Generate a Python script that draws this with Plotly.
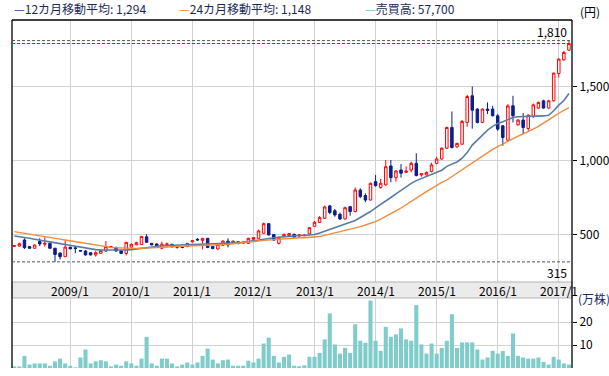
import plotly.graph_objects as go

W, H = 609, 376

# ---------------- data ----------------
months = []
for k in range(110):
    m = 2 + k
    months.append(f"{2008 + (m - 1) // 12}/{(m - 1) % 12 + 1}")

open_ = [420,422,463,418,407,452,434,440,407,375,350,414,410,392,388,377,362,373,388,412,
         411,390,372,415,430,432,484,440,436,407,430,434,418,416,418,450,468,460,474,418,
         402,427,455,440,438,448,440,467,474,508,573,500,440,488,492,501,490,492,504,555,
         582,609,693,660,636,605,688,655,800,763,733,857,817,835,963,884,936,920,936,981,
         902,902,925,980,1010,1083,1223,1092,1110,1257,1437,1347,1257,1347,1347,1302,1234,1137,1369,1241,
         1273,1216,1295,1354,1403,1354,1403,1588,1680,1745]
high = [428,445,474,420,431,474,481,445,410,378,460,416,418,394,395,380,388,393,456,420,
        418,392,450,440,450,490,502,443,440,452,445,436,420,420,443,462,475,476,476,420,
        436,460,474,460,456,452,478,483,533,580,578,503,485,506,510,505,503,500,550,592,
        625,695,700,673,648,688,693,817,812,778,850,902,875,1003,1003,935,976,960,992,1049,
        915,925,985,1025,1088,1228,1331,1120,1273,1444,1500,1354,1352,1392,1369,1313,1240,1380,1437,1280,
        1320,1312,1385,1398,1410,1410,1595,1690,1740,1810]
low = [416,418,402,405,405,422,418,402,315,332,348,400,373,386,357,358,350,371,384,408,
       385,368,358,410,428,430,445,426,415,400,413,413,405,407,415,445,458,400,408,400,
       398,425,413,436,434,440,436,465,470,505,493,458,433,481,488,478,485,488,500,550,
       578,605,637,620,598,600,627,650,745,718,730,823,810,830,853,857,884,915,920,893,
       890,898,920,975,1005,1078,1080,1085,1105,1228,1215,1250,1252,1313,1298,1200,1099,1130,1257,1235,
       1178,1200,1290,1350,1350,1350,1398,1561,1673,1740]
close = [425,438,411,407,429,436,440,407,365,350,415,403,405,388,362,362,377,391,418,418,
         388,372,447,434,445,487,447,430,420,434,436,416,414,412,440,458,463,474,412,405,
         434,456,430,455,452,443,474,479,524,573,497,462,481,501,506,482,497,496,546,582,
         614,686,648,632,605,681,655,801,756,733,846,830,846,958,884,929,914,929,981,898,
         911,920,970,1010,1083,1223,1088,1115,1264,1432,1340,1257,1347,1338,1302,1212,1155,1369,1302,1273,
         1223,1306,1376,1392,1354,1403,1590,1685,1730,1790]

ma12 = [490,486,480,474,468,463,458,452,445,438,432,426,418,412,406,401,398,396,395,394,
        393,393,395,398,403,409,414,419,422,424,426,427,428,429,431,433,436,438,438,437,
        437,438,440,442,444,447,452,458,465,472,476,478,481,485,489,492,493,493,495,500,
        510,522,535,547,557,567,578,595,615,633,655,680,702,728,750,775,800,822,845,864,
        878,892,905,918,934,960,977,990,1015,1053,1104,1140,1175,1205,1230,1250,1262,1275,1290,1295,
        1296,1295,1297,1300,1301,1305,1336,1374,1405,1452]
ma24 = [519,514,508,502,497,491,485,480,475,469,463,457,451,445,439,434,429,423,418,413,
        410,408,407,406,406,407,409,412,415,417,418,419,420,421,422,423,425,426,427,428,
        429,431,434,437,440,443,447,452,456,460,463,466,469,472,475,478,478,478,479,481,
        486,494,502,509,517,525,533,542,553,564,575,587,603,620,640,659,679,700,722,745,
        767,790,812,835,852,868,891,914,938,962,986,1010,1032,1054,1075,1094,1112,1130,1150,1165,
        1180,1195,1212,1231,1251,1273,1296,1319,1338,1357]
volume = [0.7,0.7,5.3,1.5,2.0,2.0,2.0,1.0,2.9,4.1,2.0,1.0,0.3,4.6,8.1,2.0,2.9,3.4,2.9,0.7,
          1.5,1.0,2.9,2.0,1.0,4.1,13.6,2.0,1.0,4.1,4.1,2.0,0.7,1.5,2.4,1.5,2.4,5.3,8.5,3.7,
          2.0,3.4,3.7,1.0,1.0,1.0,3.2,2.4,4.1,10.7,13.3,5.3,2.4,4.9,5.9,1.0,0.75,1.2,4.9,4.9,
          6.6,12.5,23.9,10.3,6.3,8.8,6.6,19.1,11.9,11.0,29.5,11.9,7.5,18.0,13.6,14.7,17.3,12.5,11.9,27.5,
          10.3,6.3,10.7,6.3,8.8,11.9,23.5,8.8,11.2,11.2,11.2,8.1,3.7,4.6,7.5,6.3,7.4,5.3,15.1,5.3,
          4.6,4.1,4.1,4.6,2.7,1.5,4.9,3.7,2.0,1.5]

year_ticks = ["2009/1","2010/1","2011/1","2012/1","2013/1","2014/1","2015/1","2016/1","2017/1"]
price_ticks = [500, 1000, 1500]
vol_ticks = [10, 20]
legend_items = [("12カ月移動平均", "1,294"), ("24カ月移動平均", "1,148"), ("売買高", "57,700")]

# ---------------- styling ----------------
FONT = "Noto Sans CJK JP, sans-serif"
RED = "#ff0000"
NAVY = "#0a1e8c"
BLUE_MA = "#5a7aa6"
ORANGE_MA = "#f08a3c"
TEAL = "#80cccb"
GRID = "#d2d2d2"

def px(x):
    return x / W

def py(y):
    return 1 - y / H

x_left, x_right = 12, 572
price_top, price_bot = 20, 282
band_bot = 298
vol_bot = 368

fig = go.Figure()

fig.add_trace(go.Candlestick(
    x=months, open=open_, high=high, low=low, close=close,
    increasing=dict(line=dict(color=RED, width=1), fillcolor="#ffffff"),
    decreasing=dict(line=dict(color=NAVY, width=1), fillcolor=NAVY),
    whiskerwidth=0, xaxis="x", yaxis="y", showlegend=False, hoverinfo="skip"))

fig.add_trace(go.Scatter(x=months, y=ma12, mode="lines",
                         line=dict(color=BLUE_MA, width=1.6), xaxis="x", yaxis="y",
                         showlegend=False, hoverinfo="skip"))
fig.add_trace(go.Scatter(x=months, y=ma24, mode="lines",
                         line=dict(color=ORANGE_MA, width=1.4), xaxis="x", yaxis="y",
                         showlegend=False, hoverinfo="skip"))

fig.add_trace(go.Bar(x=months, y=volume, marker=dict(color=TEAL, line=dict(width=0)),
                     xaxis="x2", yaxis="y2", showlegend=False, hoverinfo="skip"))

xr = [-0.45, len(months) - 0.4]
axis_font = dict(family=FONT, size=12, color="#000000")

fig.update_layout(
    width=W, height=H,
    margin=dict(l=0, r=0, t=0, b=0),
    paper_bgcolor="#ffffff", plot_bgcolor="#ffffff",
    font=axis_font,
    bargap=0.2,
    boxgap=0.3,
    xaxis=dict(domain=[px(x_left), px(x_right)], range=xr, type="category",
               tickvals=year_ticks, showticklabels=False, ticks="",
               showgrid=True, gridcolor=GRID, gridwidth=1, zeroline=False,
               rangeslider=dict(visible=False), anchor="y", fixedrange=True),
    yaxis=dict(domain=[py(price_bot), py(price_top)], range=[179, 1949], side="right",
               tickvals=price_ticks, ticktext=[f"{v:,}" for v in price_ticks],
               ticks="outside", ticklen=4, tickcolor="#000", showgrid=True, gridcolor=GRID,
               zeroline=False, showline=False, anchor="x", tickfont=axis_font),
    xaxis2=dict(domain=[px(x_left), px(x_right)], range=xr, type="category",
                tickvals=year_ticks, showticklabels=False, ticks="",
                showgrid=True, gridcolor=GRID, gridwidth=1, zeroline=False,
                anchor="y2", matches="x"),
    yaxis2=dict(domain=[py(vol_bot), py(band_bot)], range=[0, 30.6], side="right",
                tickvals=vol_ticks, ticktext=[str(v) for v in vol_ticks],
                ticks="outside", ticklen=4, tickcolor="#000", showgrid=True, gridcolor=GRID,
                zeroline=False, showline=False, anchor="x2", tickfont=axis_font),
)

shapes = []
# date band
shapes.append(dict(type="rect", xref="paper", yref="paper",
                   x0=px(x_left), x1=px(x_right), y0=py(band_bot), y1=py(price_bot),
                   fillcolor="#ebebeb", line=dict(color="#b4b4b4", width=1), layer="above"))
# borders
shapes.append(dict(type="line", xref="paper", yref="paper", x0=px(x_left), x1=px(x_right),
                   y0=py(price_top), y1=py(price_top), line=dict(color="#000", width=1.3)))
shapes.append(dict(type="line", xref="paper", yref="paper", x0=px(x_left), x1=px(x_left),
                   y0=py(vol_bot), y1=py(price_top), line=dict(color="#000", width=1.3)))
shapes.append(dict(type="line", xref="paper", yref="paper", x0=px(x_right), x1=px(x_right),
                   y0=py(vol_bot), y1=py(price_top), line=dict(color="#000", width=1.3)))
# high / low / last markers
max_high = max(high)
min_low = min(low)
last_close = close[-1]
for val, col in [(max_high, "#555555"), (min_low, "#555555"), (last_close, "#ff0000")]:
    shapes.append(dict(type="line", xref="paper", yref="y", x0=px(x_left), x1=px(x_right),
                       y0=val, y1=val, line=dict(color=col, width=1, dash="3px,2px")))
fig.update_layout(shapes=shapes)

ann = []
for t in year_ticks:
    ann.append(dict(x=t, xref="x", y=py((price_bot + band_bot) / 2), yref="paper",
                    text=t, showarrow=False, font=axis_font, xanchor="center", yanchor="middle"))
ann.append(dict(x=px(569), xref="paper", y=max_high, yref="y", text=f"{max_high:,}",
                showarrow=False, xanchor="right", yanchor="bottom", font=axis_font, yshift=-1))
ann.append(dict(x=px(569), xref="paper", y=min_low, yref="y", text=f"{min_low:,}",
                showarrow=False, xanchor="right", yanchor="top", font=axis_font, yshift=0))
ann.append(dict(x=px(578), xref="paper", y=py(12), yref="paper", text="(円)",
                showarrow=False, xanchor="left", yanchor="middle", font=axis_font))
ann.append(dict(x=px(576), xref="paper", y=py(298), yref="paper", text="(万株)",
                showarrow=False, xanchor="left", yanchor="middle",
                font=dict(family=FONT, size=12, color="#1a2a6a")))
leg_x = [12, 177, 363]
leg_col = ["#1f3f8f", ORANGE_MA, "#6cc6c6"]
for (name, val), lx, lc in zip(legend_items, leg_x, leg_col):
    ann.append(dict(x=px(lx), xref="paper", y=py(9), yref="paper",
                    text=f"<span style='color:{lc}'>—</span>{name}: {val}",
                    showarrow=False, xanchor="left", yanchor="middle",
                    font=dict(family=FONT, size=12, color="#1a2a5a")))
fig.update_layout(annotations=ann)

fig.write_html("out.html", config={"displayModeBar": False, "staticPlot": True},
               post_script="document.body.style.margin='0';document.body.style.overflow='hidden';")
